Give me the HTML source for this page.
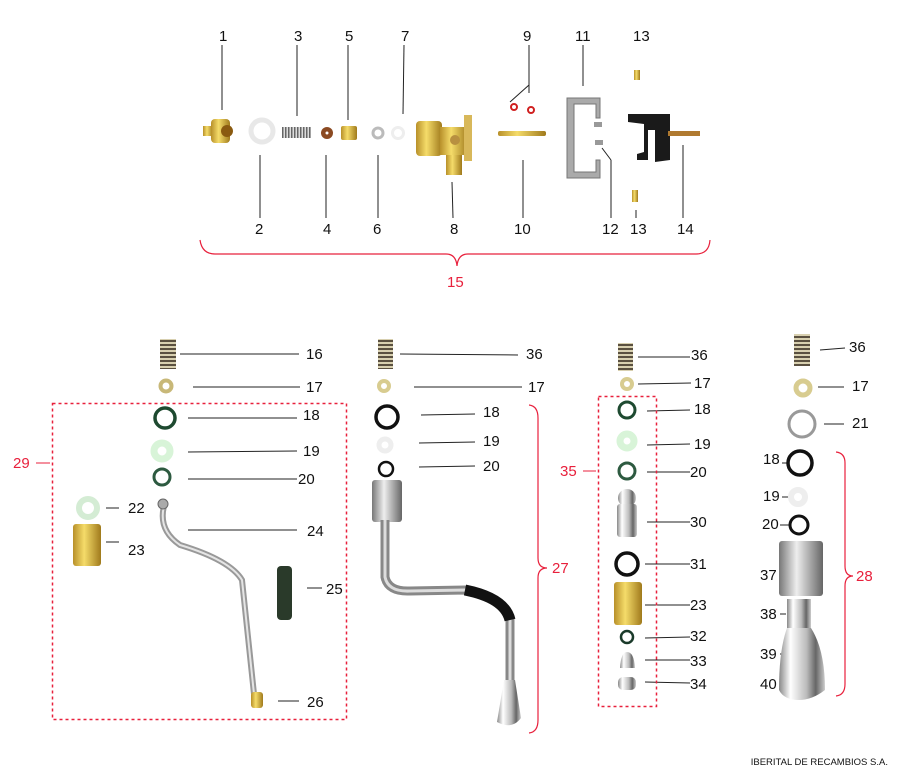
<!DOCTYPE html>
<html><head><meta charset="utf-8"><style>
html,body{margin:0;padding:0;background:#fff;width:900px;height:775px;overflow:hidden}
svg{display:block}
text{font-family:"Liberation Sans",sans-serif;font-size:15px;fill:#111}
.r{fill:#e8203c}
</style></head><body>
<svg width="900" height="775" viewBox="0 0 900 775" xmlns="http://www.w3.org/2000/svg">
<defs>
<linearGradient id="brass" x1="0" x2="1"><stop offset="0" stop-color="#b8902a"/><stop offset=".4" stop-color="#f5dc6a"/><stop offset="1" stop-color="#a07a1c"/></linearGradient>
<linearGradient id="steel" x1="0" x2="1"><stop offset="0" stop-color="#777"/><stop offset=".4" stop-color="#eee"/><stop offset="1" stop-color="#666"/></linearGradient>
<linearGradient id="chrome" x1="0" x2="1"><stop offset="0" stop-color="#888"/><stop offset=".25" stop-color="#fff"/><stop offset=".6" stop-color="#bbb"/><stop offset=".8" stop-color="#666"/><stop offset="1" stop-color="#ccc"/></linearGradient>
<pattern id="spr" width="4" height="4" patternUnits="userSpaceOnUse"><rect width="4" height="4" fill="#d8d0b0"/><rect width="4" height="2" fill="#5a5040"/></pattern>
<pattern id="sprh" width="3" height="4" patternUnits="userSpaceOnUse"><rect width="3" height="4" fill="#ddd"/><rect width="1.5" height="4" fill="#666"/></pattern>
</defs>

<g stroke="#222" stroke-width="1" fill="none">
<line x1="222" y1="45" x2="222" y2="110"/>
<line x1="297" y1="45" x2="297" y2="116"/>
<line x1="348" y1="45" x2="348" y2="120"/>
<line x1="404" y1="45" x2="403" y2="114"/>
<line x1="529" y1="45" x2="529" y2="93"/><line x1="529" y1="85" x2="510" y2="102"/>
<line x1="583" y1="45" x2="583" y2="86"/>
<line x1="260" y1="155" x2="260" y2="218"/>
<line x1="326" y1="155" x2="326" y2="218"/>
<line x1="378" y1="155" x2="378" y2="218"/>
<line x1="452" y1="182" x2="453" y2="218"/>
<line x1="523" y1="160" x2="523" y2="218"/>
<line x1="602" y1="148" x2="611" y2="160"/><line x1="611" y1="160" x2="611" y2="218"/>
<line x1="636" y1="210" x2="636" y2="218"/>
<line x1="683" y1="145" x2="683" y2="218"/>
<line x1="180" y1="354" x2="299" y2="354"/>
<line x1="193" y1="387" x2="300" y2="387"/>
<line x1="188" y1="418" x2="297" y2="418"/>
<line x1="188" y1="452" x2="297" y2="451"/>
<line x1="188" y1="479" x2="297" y2="479"/>
<line x1="106" y1="508" x2="119" y2="508"/>
<line x1="106" y1="542" x2="119" y2="542"/>
<line x1="188" y1="530" x2="297" y2="530"/>
<line x1="307" y1="588" x2="322" y2="588"/>
<line x1="278" y1="701" x2="299" y2="701"/>
<line x1="36" y1="463" x2="50" y2="463" stroke="#e8203c"/>
<line x1="400" y1="354" x2="518" y2="355"/>
<line x1="414" y1="387" x2="522" y2="387"/>
<line x1="421" y1="415" x2="475" y2="414"/>
<line x1="419" y1="443" x2="475" y2="442"/>
<line x1="419" y1="467" x2="475" y2="466"/>
<line x1="638" y1="357" x2="690" y2="357"/>
<line x1="638" y1="384" x2="691" y2="383"/>
<line x1="647" y1="411" x2="690" y2="410"/>
<line x1="647" y1="445" x2="690" y2="444"/>
<line x1="647" y1="472" x2="690" y2="472"/>
<line x1="647" y1="522" x2="690" y2="522"/>
<line x1="645" y1="564" x2="690" y2="564"/>
<line x1="645" y1="605" x2="690" y2="605"/>
<line x1="645" y1="638" x2="690" y2="637"/>
<line x1="645" y1="660" x2="690" y2="660"/>
<line x1="645" y1="682" x2="690" y2="683"/>
<line x1="583" y1="471" x2="596" y2="471" stroke="#e8203c"/>
<line x1="820" y1="350" x2="845" y2="348"/>
<line x1="818" y1="387" x2="844" y2="387"/>
<line x1="824" y1="424" x2="844" y2="424"/>
<line x1="782" y1="463" x2="787" y2="463"/>
<line x1="782" y1="497" x2="789" y2="497"/>
<line x1="780" y1="525" x2="789" y2="525"/>
<line x1="780" y1="578" x2="782" y2="578"/>
<line x1="780" y1="614" x2="786" y2="614"/>
<line x1="780" y1="654" x2="783" y2="654"/>
<line x1="780" y1="685" x2="780" y2="685"/>
</g>

<g stroke="#e8203c" stroke-width="1.2" fill="none">
<path d="M200 240 Q202 254 215 254 L446 254 Q456 254 457 266 Q458 254 468 254 L696 254 Q709 254 710 240"/>
<path d="M529 405 Q538 406 538 418 L538 558 Q538 568 547 568 Q538 568 538 578 L538 720 Q538 732 529 733"/>
<path d="M836 452 Q845 453 845 463 L845 566 Q845 576 853 576 Q845 576 845 586 L845 684 Q845 695 836 696"/>
<rect x="52.5" y="403.5" width="294" height="316" stroke-dasharray="3,3" stroke-width="1.5"/>
<rect x="598.5" y="396.5" width="58" height="310" stroke-dasharray="3,3" stroke-width="1.5"/>
</g>

<text x="219" y="41">1</text><text x="294" y="41">3</text><text x="345" y="41">5</text><text x="401" y="41">7</text>
<text x="523" y="41">9</text><text x="575" y="41">11</text><text x="633" y="41">13</text>
<text x="255" y="234">2</text><text x="323" y="234">4</text><text x="373" y="234">6</text><text x="450" y="234">8</text>
<text x="514" y="234">10</text><text x="602" y="234">12</text><text x="630" y="234">13</text><text x="677" y="234">14</text>
<text x="447" y="287" class="r">15</text>
<text x="306" y="359">16</text><text x="306" y="392">17</text><text x="303" y="420">18</text><text x="303" y="456">19</text><text x="298" y="484">20</text>
<text x="128" y="513">22</text><text x="128" y="555">23</text><text x="307" y="536">24</text><text x="326" y="594">25</text><text x="307" y="707">26</text>
<text x="13" y="468" class="r">29</text>
<text x="526" y="359">36</text><text x="528" y="392">17</text><text x="483" y="417">18</text><text x="483" y="446">19</text><text x="483" y="471">20</text>
<text x="552" y="573" class="r">27</text>
<text x="691" y="360">36</text><text x="694" y="388">17</text><text x="694" y="414">18</text><text x="694" y="449">19</text><text x="690" y="477">20</text>
<text x="690" y="527">30</text><text x="690" y="569">31</text><text x="690" y="610">23</text><text x="690" y="641">32</text><text x="690" y="666">33</text><text x="690" y="689">34</text>
<text x="560" y="476" class="r">35</text>
<text x="849" y="352">36</text><text x="852" y="391">17</text><text x="852" y="428">21</text>
<text x="763" y="464">18</text><text x="763" y="501">19</text><text x="762" y="529">20</text><text x="760" y="580">37</text><text x="760" y="619">38</text><text x="760" y="659">39</text><text x="760" y="689">40</text>
<text x="856" y="581" class="r">28</text>
<text x="888" y="765" text-anchor="end" style="font-size:9.5px">IBERITAL DE RECAMBIOS S.A.</text>

<rect x="203" y="126" width="10" height="10" fill="url(#brass)"/>
<rect x="211" y="119" width="19" height="24" rx="4" fill="url(#brass)"/>
<circle cx="227" cy="131" r="6" fill="#8a5a10"/>
<circle cx="262" cy="131" r="11" fill="none" stroke="#e8e8e8" stroke-width="5"/>
<rect x="282" y="127" width="29" height="11" fill="url(#sprh)"/>
<circle cx="327" cy="133" r="6" fill="#8b4a22"/><circle cx="327" cy="133" r="1.5" fill="#fff"/>
<rect x="341" y="126" width="16" height="14" rx="2" fill="url(#brass)"/>
<circle cx="378" cy="133" r="5" fill="none" stroke="#bbb" stroke-width="3"/>
<circle cx="398" cy="133" r="5.5" fill="none" stroke="#eee" stroke-width="3"/>
<rect x="416" y="121" width="26" height="35" rx="4" fill="url(#brass)"/>
<rect x="440" y="127" width="28" height="28" fill="url(#brass)"/>
<rect x="464" y="115" width="8" height="46" fill="#d8b85a"/>
<rect x="446" y="155" width="16" height="20" fill="url(#brass)"/>
<circle cx="455" cy="140" r="5" fill="#b89040"/>
<circle cx="514" cy="107" r="3" fill="none" stroke="#d02020" stroke-width="2"/>
<circle cx="531" cy="110" r="3" fill="none" stroke="#d02020" stroke-width="2"/>
<rect x="498" y="131" width="48" height="5" rx="2" fill="url(#brass)"/>
<path d="M567 98 L600 98 L600 118 L596 118 L596 104 L574 104 L574 172 L596 172 L596 160 L600 160 L600 178 L567 178 Z" fill="#aaa" stroke="#777"/>
<rect x="594" y="122" width="8" height="5" fill="#999"/><rect x="595" y="140" width="8" height="5" fill="#999"/>
<rect x="634" y="70" width="6" height="10" fill="url(#brass)"/>
<rect x="632" y="190" width="6" height="12" fill="url(#brass)"/>
<path d="M628 114 L670 114 L670 160 L655 162 L655 130 L648 130 L648 160 L637 160 L637 154 L644 152 L644 124 L628 122 Z" fill="#1a1a1a"/>
<rect x="668" y="131" width="32" height="5" fill="#b07a30"/>

<rect x="160" y="339" width="16" height="30" fill="url(#spr)"/>
<circle cx="166" cy="386" r="5.5" fill="none" stroke="#c8b878" stroke-width="4"/>
<circle cx="165" cy="418" r="10" fill="none" stroke="#1e4a30" stroke-width="3.5"/>
<circle cx="162" cy="451" r="8" fill="none" stroke="#d8f4d8" stroke-width="7"/>
<circle cx="162" cy="477" r="8" fill="none" stroke="#2d5a40" stroke-width="3"/>
<circle cx="88" cy="508" r="9" fill="none" stroke="#d4ecd4" stroke-width="6"/>
<rect x="73" y="524" width="28" height="42" rx="3" fill="url(#brass)"/>
<path d="M164 506 Q158 530 180 545 Q230 560 242 580 L254 694" fill="none" stroke="#999" stroke-width="6"/>
<path d="M164 506 Q158 530 180 545 Q230 560 242 580 L254 694" fill="none" stroke="#e5e5e5" stroke-width="2"/>
<circle cx="163" cy="504" r="5" fill="#aaa" stroke="#666"/>
<rect x="277" y="566" width="15" height="54" rx="4" fill="#2a3a2a"/>
<rect x="251" y="692" width="12" height="16" rx="3" fill="url(#brass)"/>

<rect x="378" y="339" width="15" height="30" fill="url(#spr)"/>
<circle cx="384" cy="386" r="5" fill="none" stroke="#d8cc90" stroke-width="4"/>
<circle cx="387" cy="417" r="11" fill="none" stroke="#111" stroke-width="3.5"/>
<circle cx="385" cy="445" r="6" fill="none" stroke="#eee" stroke-width="5"/>
<circle cx="386" cy="469" r="7" fill="none" stroke="#111" stroke-width="2.5"/>
<rect x="372" y="480" width="30" height="42" rx="3" fill="url(#steel)"/>
<path d="M385 520 L385 577 Q388 592 410 591 L465 590 Q505 598 510 620 L510 685" fill="none" stroke="#888" stroke-width="9"/>
<path d="M385 520 L385 577 Q388 592 410 591 L465 590 Q505 598 510 620 L510 685" fill="none" stroke="#ddd" stroke-width="3"/>
<path d="M465 590 Q505 598 510 620" fill="none" stroke="#111" stroke-width="11"/>
<path d="M504 680 L515 680 L521 718 Q512 730 497 722 Z" fill="url(#chrome)"/>

<rect x="618" y="343" width="15" height="28" fill="url(#spr)"/>
<circle cx="627" cy="384" r="5" fill="none" stroke="#d8cc90" stroke-width="4"/>
<circle cx="627" cy="410" r="8" fill="none" stroke="#1e4a30" stroke-width="3"/>
<circle cx="627" cy="441" r="7" fill="none" stroke="#d8f4d8" stroke-width="7"/>
<circle cx="627" cy="471" r="8" fill="none" stroke="#2d5a40" stroke-width="3"/>
<circle cx="627" cy="498" r="9" fill="url(#chrome)"/>
<rect x="617" y="504" width="20" height="33" rx="3" fill="url(#chrome)"/>
<circle cx="627" cy="564" r="11" fill="none" stroke="#111" stroke-width="3.5"/>
<rect x="614" y="582" width="28" height="43" rx="3" fill="url(#brass)"/>
<circle cx="627" cy="637" r="6" fill="none" stroke="#1a3a2a" stroke-width="2.5"/>
<path d="M620 668 Q621 652 627 652 Q634 652 635 668 Z" fill="url(#chrome)"/>
<rect x="618" y="677" width="18" height="13" rx="5" fill="url(#chrome)"/>

<rect x="794" y="334" width="16" height="32" fill="url(#spr)"/>
<circle cx="803" cy="388" r="7" fill="none" stroke="#d8cc90" stroke-width="5"/>
<circle cx="802" cy="424" r="13" fill="none" stroke="#999" stroke-width="3"/>
<circle cx="800" cy="463" r="12" fill="none" stroke="#111" stroke-width="3.5"/>
<circle cx="798" cy="497" r="7" fill="none" stroke="#eee" stroke-width="6"/>
<circle cx="799" cy="525" r="9" fill="none" stroke="#111" stroke-width="3"/>
<rect x="779" y="541" width="44" height="55" rx="3" fill="url(#steel)"/>
<rect x="787" y="599" width="24" height="30" fill="url(#chrome)"/>
<path d="M787 628 L811 628 Q825 650 825 690 Q812 700 799 700 Q784 700 779 690 Q779 650 787 628 Z" fill="url(#chrome)"/>
</svg>
</body></html>
